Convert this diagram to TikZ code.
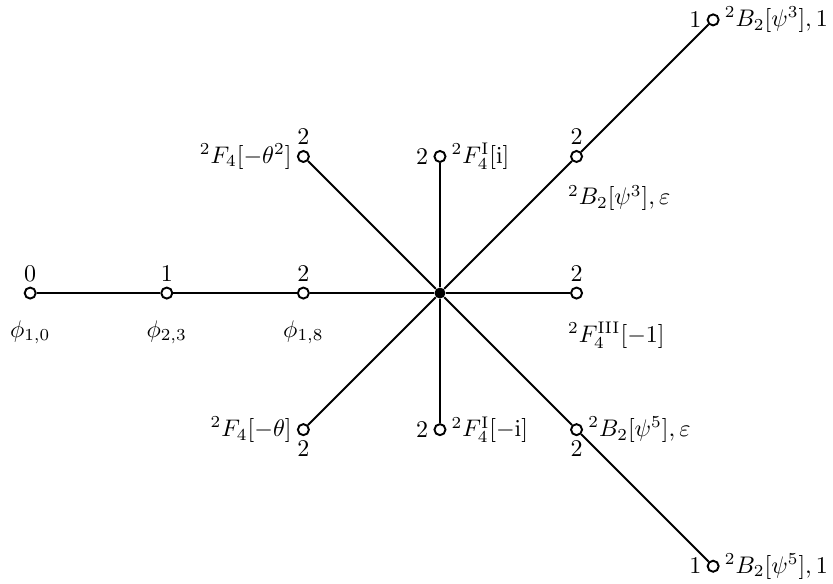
\documentclass[tikz,border=0pt]{standalone}
\usepackage{tikz}

\tikzset{
    vtx/.style={circle, draw, fill=white, line width=0.8pt, inner sep=0pt, minimum size=4.6pt},
    hub/.style={circle, fill=black, inner sep=0pt, minimum size=4.6pt},
    edge/.style={line width=0.8pt},
    every label/.style={inner sep=2pt},
    dlabel/.style={label distance=6.5pt},
    brlabel/.style={anchor=north west, inner sep=0pt, xshift=-3.75pt, yshift=-9.1pt}
}

\begin{document}
\begin{tikzpicture}[x=2cm, y=2cm]
    \useasboundingbox (-183.3pt,-120.8pt) rectangle (163.75pt,122.1pt);

    % centre
    \node[hub] (c) at (0,0) {};

    % left chain
    \node[vtx, label={above:$0$}, label={[dlabel]below:$\phi_{1,0}$}] (a0) at (-3,0) {};
    \node[vtx, label={above:$1$}, label={[dlabel]below:$\phi_{2,3}$}] (a1) at (-2,0) {};
    \node[vtx, label={above:$2$}, label={[dlabel]below:$\phi_{1,8}$}] (a2) at (-1,0) {};

    % upper arms
    \node[vtx, label={above:$2$}, label={left:$^2F_4[-\theta^2]$}] (ul) at (-1,1) {};
    \node[vtx, label={left:$2$}, label={right:$^2F_4^{\mathrm{I}}[\mathrm{i}]$}] (up) at (0,1) {};
    \node[vtx, label={above:$2$}, label={[brlabel]below:$^2B_2[\psi^3],\varepsilon$}] (ur) at (1,1) {};
    \node[vtx, label={left:$1$}, label={right:$^2B_2[\psi^3],1$}] (urr) at (2,2) {};

    % right arm
    \node[vtx, label={above:$2$}, label={[brlabel]below:$^2F_4^{\mathrm{III}}[-1]$}] (r) at (1,0) {};

    % lower arms
    \node[vtx, label={below:$2$}, label={left:$^2F_4[-\theta]$}] (dl) at (-1,-1) {};
    \node[vtx, label={left:$2$}, label={right:$^2F_4^{\mathrm{I}}[-\mathrm{i}]$}] (dn) at (0,-1) {};
    \node[vtx, label={below:$2$}, label={right:$^2B_2[\psi^5],\varepsilon$}] (dr) at (1,-1) {};
    \node[vtx, label={left:$1$}, label={right:$^2B_2[\psi^5],1$}] (drr) at (2,-2) {};

    \draw[edge] (a0) -- (a1);
    \draw[edge] (a1) -- (a2);
    \draw[edge] (a2) -- (c);
    \draw[edge] (c) -- (r);
    \draw[edge] (c) -- (ul);
    \draw[edge] (c) -- (up);
    \draw[edge] (c) -- (ur);
    \draw[edge] (ur) -- (urr);
    \draw[edge] (c) -- (dl);
    \draw[edge] (c) -- (dn);
    \draw[edge] (c) -- (dr);
    \draw[edge] (dr) -- (drr);
\end{tikzpicture}
\end{document}
